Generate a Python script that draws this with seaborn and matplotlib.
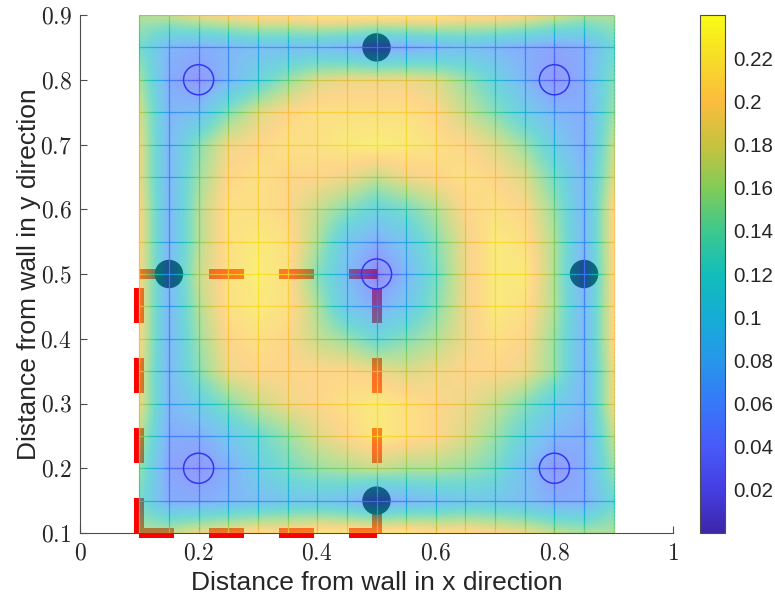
import numpy as np
import matplotlib
matplotlib.use("Agg")
import matplotlib.pyplot as plt
import matplotlib.cm as cm
import seaborn as sns
from matplotlib.colors import LinearSegmentedColormap, Normalize
from matplotlib.collections import LineCollection
from matplotlib.patches import Rectangle
from matplotlib.ticker import FuncFormatter

# ---- measurement grid (0.05 spacing) ----
grid_x = [0.10, 0.15, 0.20, 0.25, 0.30, 0.35, 0.40, 0.45, 0.50,
          0.55, 0.60, 0.65, 0.70, 0.75, 0.80, 0.85, 0.90]
grid_y = [0.10, 0.15, 0.20, 0.25, 0.30, 0.35, 0.40, 0.45, 0.50,
          0.55, 0.60, 0.65, 0.70, 0.75, 0.80, 0.85, 0.90]

# field values, one row per grid_y (bottom to top), one column per grid_x
field = [
    [0.16, 0.17, 0.19, 0.20, 0.21, 0.21, 0.22, 0.22, 0.22, 0.22, 0.21, 0.21, 0.20, 0.19, 0.17, 0.16, 0.16],
    [0.13, 0.06, 0.06, 0.07, 0.08, 0.09, 0.09, 0.08, 0.05, 0.07, 0.08, 0.09, 0.09, 0.08, 0.06, 0.06, 0.12],
    [0.15, 0.05, 0.035, 0.06, 0.10, 0.13, 0.15, 0.16, 0.17, 0.16, 0.16, 0.15, 0.13, 0.08, 0.035, 0.06, 0.15],
    [0.17, 0.06, 0.06, 0.09, 0.12, 0.15, 0.18, 0.20, 0.22, 0.21, 0.20, 0.18, 0.15, 0.11, 0.07, 0.06, 0.17],
    [0.19, 0.07, 0.10, 0.14, 0.17, 0.19, 0.20, 0.21, 0.22, 0.21, 0.20, 0.19, 0.17, 0.14, 0.10, 0.07, 0.19],
    [0.19, 0.07, 0.14, 0.19, 0.20, 0.20, 0.20, 0.20, 0.19, 0.18, 0.19, 0.20, 0.20, 0.19, 0.15, 0.07, 0.19],
    [0.20, 0.07, 0.15, 0.20, 0.21, 0.20, 0.17, 0.15, 0.12, 0.14, 0.16, 0.19, 0.21, 0.20, 0.15, 0.07, 0.20],
    [0.20, 0.07, 0.16, 0.21, 0.22, 0.21, 0.16, 0.09, 0.06, 0.09, 0.14, 0.19, 0.22, 0.21, 0.16, 0.07, 0.20],
    [0.20, 0.07, 0.17, 0.21, 0.225, 0.21, 0.14, 0.08, 0.02, 0.07, 0.13, 0.19, 0.22, 0.22, 0.16, 0.06, 0.20],
    [0.20, 0.07, 0.16, 0.21, 0.22, 0.21, 0.16, 0.09, 0.06, 0.09, 0.14, 0.19, 0.22, 0.21, 0.16, 0.07, 0.20],
    [0.20, 0.07, 0.16, 0.21, 0.21, 0.20, 0.17, 0.14, 0.11, 0.13, 0.16, 0.20, 0.21, 0.20, 0.15, 0.07, 0.20],
    [0.19, 0.07, 0.15, 0.20, 0.21, 0.20, 0.20, 0.19, 0.17, 0.19, 0.20, 0.21, 0.20, 0.18, 0.13, 0.07, 0.18],
    [0.19, 0.07, 0.14, 0.19, 0.20, 0.21, 0.21, 0.22, 0.225, 0.22, 0.21, 0.20, 0.18, 0.15, 0.10, 0.06, 0.17],
    [0.18, 0.07, 0.08, 0.14, 0.18, 0.20, 0.21, 0.21, 0.21, 0.21, 0.20, 0.17, 0.14, 0.10, 0.07, 0.06, 0.15],
    [0.16, 0.06, 0.035, 0.07, 0.11, 0.15, 0.18, 0.19, 0.19, 0.19, 0.18, 0.15, 0.11, 0.07, 0.035, 0.06, 0.14],
    [0.13, 0.07, 0.06, 0.07, 0.08, 0.08, 0.08, 0.07, 0.05, 0.06, 0.07, 0.08, 0.07, 0.06, 0.05, 0.06, 0.12],
    [0.16, 0.17, 0.19, 0.20, 0.21, 0.21, 0.22, 0.22, 0.22, 0.22, 0.22, 0.21, 0.21, 0.20, 0.18, 0.16, 0.16],
]

# receivers (open circles) and sources on the walls (filled circles)
sensor_x = [0.2, 0.8, 0.2, 0.8, 0.5]
sensor_y = [0.2, 0.2, 0.8, 0.8, 0.5]
source_x = [0.5, 0.15, 0.85, 0.5]
source_y = [0.85, 0.5, 0.5, 0.15]

# quarter-room zone outline, drawn edge by edge
zone_x0 = [0.1, 0.1, 0.1, 0.5]
zone_y0 = [0.1, 0.5, 0.1, 0.1]
zone_x1 = [0.5, 0.5, 0.1, 0.5]
zone_y1 = [0.1, 0.5, 0.5, 0.5]

x_ticks = [0, 0.2, 0.4, 0.6, 0.8, 1]
y_ticks = [0.1, 0.2, 0.3, 0.4, 0.5, 0.6, 0.7, 0.8, 0.9]
cbar_ticks = [0.02, 0.04, 0.06, 0.08, 0.1, 0.12, 0.14, 0.16, 0.18, 0.2, 0.22]
c_min, c_max = 0.0, 0.24

# parula colormap
parula_rgb = [
    [0.2422, 0.1504, 0.6603],
    [0.2691, 0.2446, 0.8855],
    [0.2780, 0.3556, 0.9777],
    [0.2112, 0.4721, 0.9775],
    [0.1540, 0.5902, 0.9218],
    [0.0855, 0.6746, 0.8354],
    [0.0704, 0.7457, 0.7258],
    [0.2394, 0.7848, 0.5548],
    [0.5044, 0.7993, 0.3480],
    [0.7763, 0.7651, 0.2461],
    [0.9871, 0.7348, 0.2438],
    [0.9683, 0.8607, 0.1562],
    [0.9769, 0.9839, 0.0805],
]
parula = LinearSegmentedColormap.from_list("parula", parula_rgb, N=256)

sns.set_theme(style="white")
plt.rcParams["font.family"] = ["Liberation Sans", "DejaVu Sans"]
plt.rcParams["mathtext.fontset"] = "cm"
plt.rcParams["lines.scale_dashes"] = False

W, H = 775, 603
fig = plt.figure(figsize=(W / 100, H / 100), dpi=100)
ax = fig.add_axes([80 / W, 70 / H, 593 / W, 518 / H])

Z = np.array(field)
gx = np.array(grid_x)
gy = np.array(grid_y)
norm = Normalize(c_min, c_max)

# zone outline lies beneath the translucent surface
for x0, y0, x1, y1 in zip(zone_x0, zone_y0, zone_x1, zone_y1):
    ax.plot([x0, x1], [y0, y1], color="red", lw=7.2, dashes=(25.2, 25.2),
            dash_capstyle="butt", solid_capstyle="butt", zorder=1, clip_on=False)

# sources, also beneath the surface
sns.scatterplot(x=source_x, y=source_y, s=420, color="black", edgecolor="none",
                zorder=1.5, ax=ax, legend=False)

# translucent interpolated surface
dx = gx[1] - gx[0]
dy = gy[1] - gy[0]
im = ax.imshow(Z, origin="lower",
               extent=(gx[0] - dx / 2, gx[-1] + dx / 2, gy[0] - dy / 2, gy[-1] + dy / 2),
               cmap=parula, norm=norm, interpolation="bilinear", alpha=0.6,
               aspect="auto", zorder=2)
im.set_clip_path(Rectangle((gx[0], gy[0]), gx[-1] - gx[0], gy[-1] - gy[0],
                           transform=ax.transData))

# mesh edges coloured by the field
nsub = 8
segs, vals = [], []
for j in range(len(gy)):
    for i in range(len(gx) - 1):
        for k in range(nsub):
            t0, t1 = k / nsub, (k + 1) / nsub
            xa = gx[i] + (gx[i + 1] - gx[i]) * t0
            xb = gx[i] + (gx[i + 1] - gx[i]) * t1
            tm = (t0 + t1) / 2
            segs.append([(xa, gy[j]), (xb, gy[j])])
            vals.append(Z[j, i] * (1 - tm) + Z[j, i + 1] * tm)
for i in range(len(gx)):
    for j in range(len(gy) - 1):
        for k in range(nsub):
            t0, t1 = k / nsub, (k + 1) / nsub
            ya = gy[j] + (gy[j + 1] - gy[j]) * t0
            yb = gy[j] + (gy[j + 1] - gy[j]) * t1
            tm = (t0 + t1) / 2
            segs.append([(gx[i], ya), (gx[i], yb)])
            vals.append(Z[j, i] * (1 - tm) + Z[j + 1, i] * tm)
mesh = LineCollection(segs, cmap=parula, norm=norm, linewidths=0.9, alpha=0.9,
                      zorder=3, capstyle="butt")
mesh.set_array(np.array(vals))
ax.add_collection(mesh)

# receivers
sns.scatterplot(x=sensor_x, y=sensor_y, s=470, marker="o", facecolor="none",
                edgecolor="#3236f2", linewidth=1.1, zorder=4, ax=ax, legend=False)

ax.set_xlim(0, 1)
ax.set_ylim(0.1, 0.9)
ax.set_xticks(x_ticks)
ax.set_yticks(y_ticks)
cm_fmt = FuncFormatter(lambda v, p: f"${v:g}$")
ax.xaxis.set_major_formatter(cm_fmt)
ax.yaxis.set_major_formatter(cm_fmt)
ax.tick_params(bottom=True, left=True, direction="in", length=5, width=0.8,
               color="#4d4d4d", labelsize=17, labelcolor="#262626")
ax.tick_params(axis="x", pad=7)
ax.tick_params(axis="y", pad=6)
for s in ["top", "right"]:
    ax.spines[s].set_visible(False)
for s in ["left", "bottom"]:
    ax.spines[s].set_color("#4d4d4d")
    ax.spines[s].set_linewidth(0.8)
ax.set_xlabel("Distance from wall in x direction", fontsize=19, color="#262626")
ax.set_ylabel("Distance from wall in y direction", fontsize=19, color="#262626")
ax.xaxis.set_label_coords(0.5, -0.074)
ax.yaxis.set_label_coords(-0.066, 0.5)

# colour bar
cax = fig.add_axes([700 / W, 70 / H, 25 / W, 518 / H])
cb = fig.colorbar(cm.ScalarMappable(norm=norm, cmap=parula), cax=cax, ticks=cbar_ticks)
cb.outline.set_edgecolor("#4d4d4d")
cb.outline.set_linewidth(0.8)
cax.yaxis.set_major_formatter(FuncFormatter(lambda v, p: f"{v:g}"))
cax.tick_params(right=True, direction="in", length=5, width=0.8, color="#4d4d4d",
                labelsize=14.8, pad=6, labelcolor="#262626")

fig.savefig("out.png", dpi=100)
